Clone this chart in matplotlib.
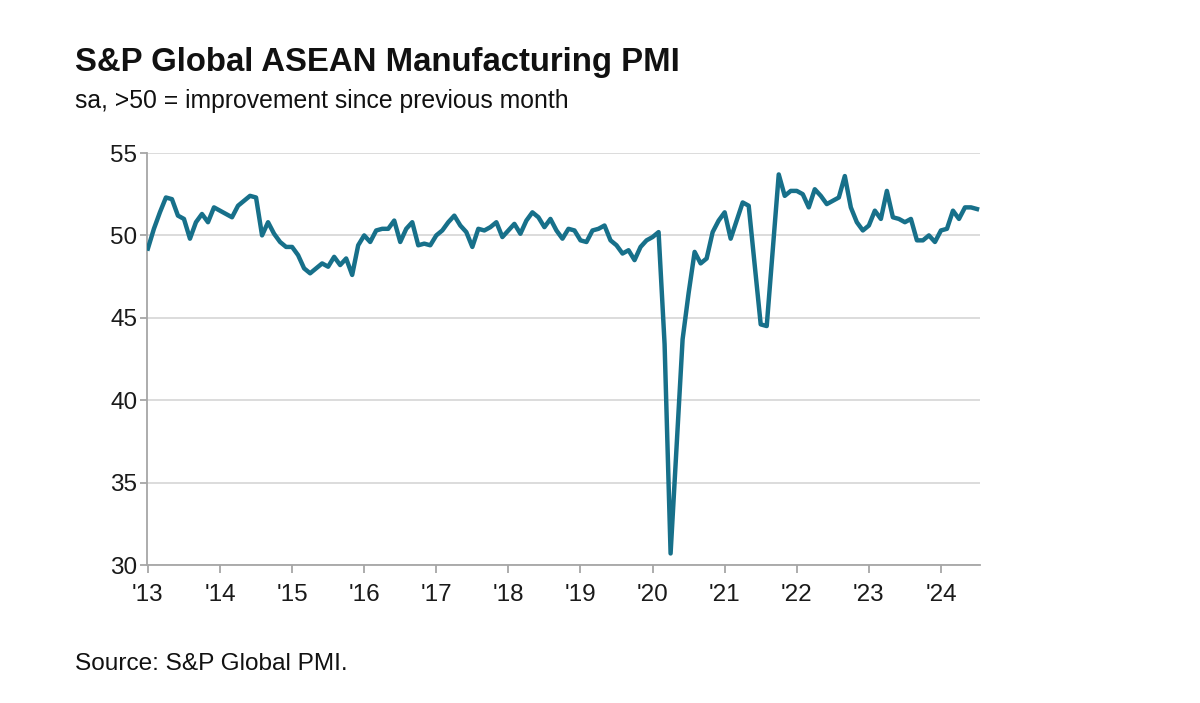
import matplotlib
matplotlib.use("Agg")
import matplotlib.pyplot as plt
import numpy as np

plt.rcParams['font.family'] = ['Liberation Sans', 'DejaVu Sans']

years = ["'13", "'14", "'15", "'16", "'17", "'18", "'19", "'20", "'21", "'22", "'23", "'24"]

pmi_2013 = [49.2, 50.4, 51.4, 52.3, 52.2, 51.2, 51.0, 49.8, 50.8, 51.3, 50.8, 51.7]
pmi_2014 = [51.5, 51.3, 51.1, 51.8, 52.1, 52.4, 52.3, 50.0, 50.8, 50.1, 49.6, 49.3]
pmi_2015 = [49.3, 48.8, 48.0, 47.7, 48.0, 48.3, 48.1, 48.7, 48.2, 48.6, 47.6, 49.4]
pmi_2016 = [50.0, 49.6, 50.3, 50.4, 50.4, 50.9, 49.6, 50.4, 50.8, 49.4, 49.5, 49.4]
pmi_2017 = [50.0, 50.3, 50.8, 51.2, 50.6, 50.2, 49.3, 50.4, 50.3, 50.5, 50.8, 49.9]
pmi_2018 = [50.3, 50.7, 50.1, 50.9, 51.4, 51.1, 50.5, 51.0, 50.3, 49.8, 50.4, 50.3]
pmi_2019 = [49.7, 49.6, 50.3, 50.4, 50.6, 49.7, 49.4, 48.9, 49.1, 48.5, 49.3, 49.7]
pmi_2020 = [49.9, 50.2, 43.4, 30.7, 37.2, 43.7, 46.5, 49.0, 48.3, 48.6, 50.2, 50.9]
pmi_2021 = [51.4, 49.8, 50.9, 52.0, 51.8, 48.2, 44.6, 44.5, 49.1, 53.7, 52.4, 52.7]
pmi_2022 = [52.7, 52.5, 51.7, 52.8, 52.4, 51.9, 52.1, 52.3, 53.6, 51.7, 50.8, 50.3]
pmi_2023 = [50.6, 51.5, 51.0, 52.7, 51.1, 51.0, 50.8, 51.0, 49.7, 49.7, 50.0, 49.6]
pmi_2024 = [50.3, 50.4, 51.5, 51.0, 51.7, 51.7, 51.6]

pmi = (pmi_2013 + pmi_2014 + pmi_2015 + pmi_2016 + pmi_2017 + pmi_2018 +
       pmi_2019 + pmi_2020 + pmi_2021 + pmi_2022 + pmi_2023 + pmi_2024)
months = np.arange(len(pmi))

fig = plt.figure(figsize=(12, 7.03), dpi=100)
ax = fig.add_axes([147/1200, 1 - 565/703, (980 - 147)/1200, (565 - 153)/703])

ax.plot(months, pmi, color='#17708A', lw=3.2, solid_joinstyle='round', zorder=3)

ax.set_ylim(30, 55)
ax.set_xlim(-0.15, 138.5)
ax.set_yticks([30, 35, 40, 45, 50, 55])
ax.set_xticks(np.arange(len(years)) * 12)
ax.set_xticklabels(years)

ax.grid(axis='y', color='#d9d9d9', lw=1.3, zorder=0)
for s in ['top', 'right']:
    ax.spines[s].set_visible(False)
for s in ['left', 'bottom']:
    ax.spines[s].set_color('#a6a6a6')
    ax.spines[s].set_linewidth(1.3)
ax.tick_params(axis='both', colors='#a6a6a6', labelcolor='#1a1a1a', labelsize=17.5,
               width=1.3)
ax.tick_params(axis='x', length=6, pad=8)
ax.tick_params(axis='y', length=5, pad=2)

fig.text(75/1200, 1 - 63/703, "S&P Global ASEAN Manufacturing PMI", fontsize=23.7,
         fontweight='bold', color='#111111', va='center', ha='left')
fig.text(75/1200, 1 - 101/703, "sa, >50 = improvement since previous month", fontsize=17.8,
         color='#111111', va='center', ha='left')
fig.text(75/1200, 1 - 664/703, "Source: S&P Global PMI.", fontsize=17.6,
         color='#111111', va='center', ha='left')

fig.savefig('out.png', dpi=100)
